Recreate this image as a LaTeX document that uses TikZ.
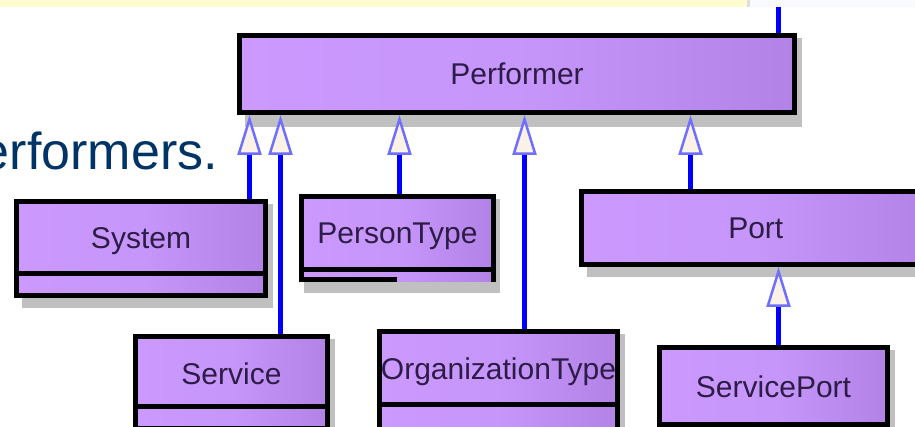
\documentclass[tikz,border=0pt]{standalone}
\usepackage{fontspec}
\setmainfont{Liberation Sans}
\usetikzlibrary{arrows.meta,backgrounds,calc}
\definecolor{lavL}{RGB}{204,153,255}
\definecolor{lavM}{RGB}{198,150,250}
\definecolor{lavR}{RGB}{178,130,230}
\definecolor{shadowC}{RGB}{192,192,192}
\definecolor{genblue}{RGB}{0,0,255}
\definecolor{triblue}{RGB}{110,110,255}
\definecolor{cream}{RGB}{250,242,230}
\definecolor{boxtext}{RGB}{45,28,70}
\definecolor{slideblue}{RGB}{0,51,102}
\definecolor{bandyellow}{RGB}{255,253,208}
\definecolor{bandgray}{RGB}{222,222,222}
\definecolor{bandblue}{RGB}{248,250,255}
\begin{document}
\begin{tikzpicture}[x=1pt,y=-1pt,
  umlbox/.style={draw=black, line width=5pt, left color=lavL, right color=lavR, middle color=lavM,
    inner sep=0pt, font=\fontsize{30}{30}\selectfont, text=boxtext, text height=22pt, text depth=0pt},
  umlfill/.style={draw=none, left color=lavL, right color=lavR, middle color=lavM, inner sep=0pt, outer sep=0pt},
  borderline/.style={draw=black, line width=5pt},
  shadowbox/.style={fill=shadowC},
  genline/.style={draw=genblue, line width=5pt,
    -{Triangle[length=40pt,width=24pt,fill=cream,color=triblue,line width=2.5pt]}},
  plainline/.style={draw=genblue, line width=5pt}
]
\useasboundingbox (0,0) rectangle (915,427);
\clip (0,0) rectangle (915,427);
% top band of the slide
\fill[bandyellow] (0,0) rectangle (747,7);
\fill[bandgray] (747,0) rectangle (750,7);
\fill[bandblue] (750,0) rectangle (915,7);
% slide text
\node[anchor=base east, text=slideblue, font=\fontsize{52}{52}\selectfont, inner sep=0pt] (slidetext) at (218,170) {erformers.};
% boxes
\node[umlbox, minimum width=555pt, minimum height=77pt] (perf) at (517,74) {Performer};
\node[umlbox, minimum width=249pt, minimum height=73pt] (sys) at (141,238) {System};
\node[umlbox, minimum width=249pt, minimum height=20pt] (sysA) at (141,284.5) {};
\node[umlfill, minimum width=192pt, minimum height=10pt] (ptA) at (397.5,277) {};
\draw[borderline] (ptA.north west) -- (ptA.south west);
\draw[borderline] (ptA.north east) -- (ptA.south east);
\draw[borderline] ([shift={(-2.5,-2.5)}]ptA.south west) -- ++(98,0);
\node[umlbox, minimum width=192pt, minimum height=73pt] (pt) at (397.5,233) {PersonType};
\node[umlbox, minimum width=348.5pt, minimum height=73pt] (port) at (755.75,228) {Port};
\node[umlbox, minimum width=192pt, minimum height=73pt] (serv) at (231.5,373) {Service};
\node[umlbox, minimum width=192pt, minimum height=15pt] (servA) at (231.5,417) {};
\node[umlbox, minimum width=238pt, minimum height=73pt] (org) at (498.5,368) {OrganizationType};
\node[umlbox, minimum width=238pt, minimum height=35.5pt] (orgA) at (498.5,422.25) {};
\node[umlbox, minimum width=228pt, minimum height=77pt] (sp) at (773.5,386) {ServicePort};
% shadows
\begin{scope}[on background layer]
\fill[shadowbox] ([shift={(8,5)}]perf.north west) rectangle ([shift={(5,12)}]perf.south east);
\fill[shadowbox] ([shift={(8,5)}]sys.north west) rectangle ([shift={(5,10)}]sysA.south east);
\fill[shadowbox] ([shift={(5,5)}]pt.north west) rectangle ([shift={(6.5,11)}]ptA.south east);
\fill[shadowbox] ([shift={(8,5)}]port.north west) rectangle ([shift={(5,10)}]port.south east);
\fill[shadowbox] ([shift={(8,5)}]serv.north west) rectangle ([shift={(5,10)}]servA.south east);
\fill[shadowbox] ([shift={(8,5)}]org.north west) rectangle ([shift={(5,10)}]orgA.south east);
\fill[shadowbox] ([shift={(8,5)}]sp.north west) rectangle ([shift={(5,10)}]sp.south east);
\end{scope}
% connectors
\coordinate (xsys) at (249.5,0);
\coordinate (xserv) at (280.5,0);
\coordinate (xpt) at (399.5,0);
\coordinate (xorg) at (524.5,0);
\coordinate (xport) at (690.5,0);
\coordinate (xsp) at (778.5,0);
\coordinate (topend) at (778.5,7);
\draw[plainline] (topend) -- (perf.north -| topend);
\draw[genline] (sys.north -| xsys) -- (perf.south -| xsys);
\draw[genline] (serv.north -| xserv) -- (perf.south -| xserv);
\draw[genline] (pt.north -| xpt) -- (perf.south -| xpt);
\draw[genline] (org.north -| xorg) -- (perf.south -| xorg);
\draw[genline] (port.north -| xport) -- (perf.south -| xport);
\draw[genline] (sp.north -| xsp) -- (port.south -| xsp);
\end{tikzpicture}
\end{document}
